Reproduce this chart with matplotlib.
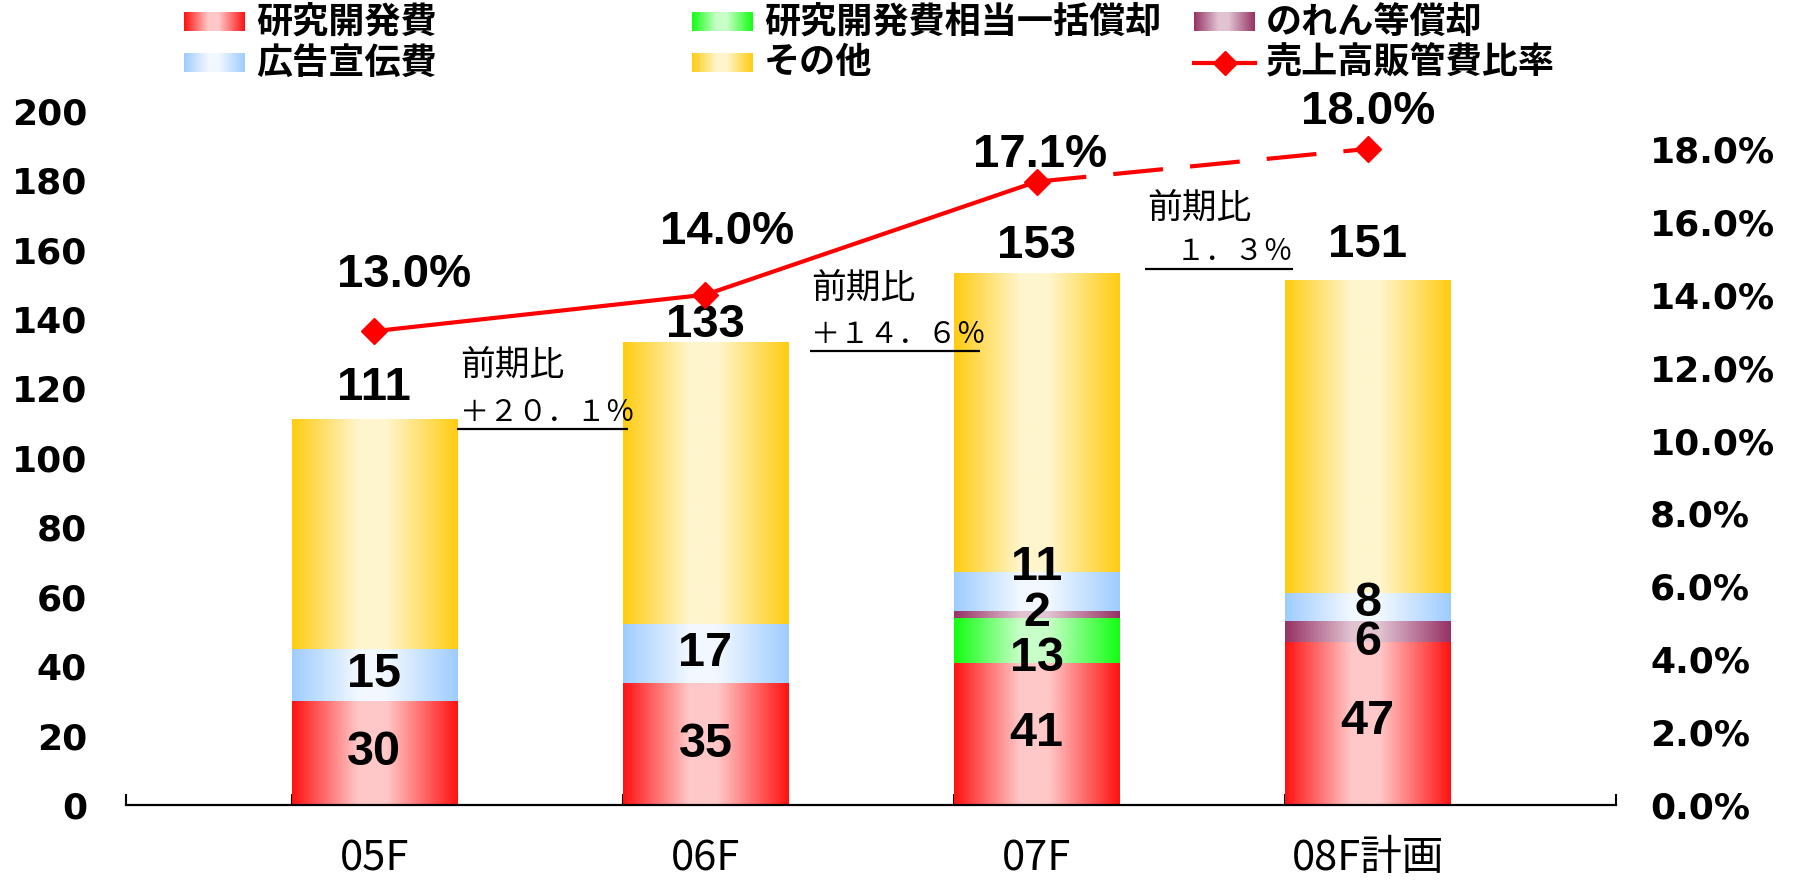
import numpy as np
import matplotlib
matplotlib.use('Agg')
import matplotlib.pyplot as plt
from matplotlib.ticker import FuncFormatter

# ---------------- data ----------------
categories = ['05F', '06F', '07F', '08F計画']
series_names = ['研究開発費', '研究開発費相当一括償却', 'のれん等償却', '広告宣伝費', 'その他']
rd = [30, 35, 41, 47]
rd_lump = [0, 0, 13, 0]
goodwill = [0, 0, 2, 6]
advert = [15, 17, 11, 8]
other = [66, 81, 86, 90]
totals = [111, 133, 153, 151]
ratio_name = '売上高販管費比率'
ratio = [13.0, 14.0, 17.1, 18.0]
yoy_line1 = ['前期比', '前期比', '前期比']
yoy_line2 = ['＋２０．１％', '＋１４．６％', '　１．３％']
left_ticks = [0, 20, 40, 60, 80, 100, 120, 140, 160, 180, 200]
right_ticks = [0, 2, 4, 6, 8, 10, 12, 14, 16, 18]

series_values = [rd, rd_lump, goodwill, advert, other]

# ---------------- style ----------------
edge_cols = [(255, 18, 18), (18, 255, 18), (150, 50, 100), (158, 204, 255), (255, 204, 17)]
center_cols = [(255, 200, 200), (200, 255, 200), (225, 195, 210), (242, 248, 255), (255, 245, 205)]
LINE_RED = '#FF0000'

NUM_FONT = 'Liberation Sans'
TICK_FONT = 'DejaVu Sans'
JP = ['Noto Sans CJK JP', 'DejaVu Sans']


def gradient(edge, center, n=256):
    t = np.linspace(0, 1, n)
    f = np.interp(t, [0, 0.4, 0.57, 1], [0, 1, 1, 0])
    e = np.array(edge) / 255.0
    c = np.array(center) / 255.0
    rgb = e[None, :] * (1 - f[:, None]) + c[None, :] * f[:, None]
    return rgb[None, :, :]


fig = plt.figure(figsize=(18, 8.8), dpi=100)
ax = fig.add_axes([126 / 1800, 75 / 880, (1616 - 126) / 1800, (805 - 76) / 880])
ax2 = ax.twinx()

n_slots = 2 * len(categories) + 1
xpos = [2 * i + 1.5 for i in range(len(categories))]

# ---------------- bars ----------------
bottom = np.zeros(len(categories))
label_offsets = [
    [0, 0, 0, 0.5],
    [0, 0, -5.4, 0],
    [0, 0, 0.1, -3.2],
    [0, 0, 6.9, 1.0],
    [0, 0, 0, 0],
]
for si, vals in enumerate(series_values):
    vals = np.array(vals, dtype=float)
    bars = ax.bar(xpos, vals, bottom=bottom, width=1.0, color='none', edgecolor='none', zorder=2)
    img = gradient(edge_cols[si], center_cols[si])
    for bi, p in enumerate(bars.patches):
        if vals[bi] <= 0:
            continue
        x0, y0 = p.get_x(), p.get_y()
        ax.imshow(img, extent=(x0, x0 + p.get_width(), y0, y0 + p.get_height()),
                  aspect='auto', interpolation='bilinear', zorder=2)
        if si < 4:
            ax.text(xpos[bi], y0 + vals[bi] / 2 + label_offsets[si][bi], f'{int(vals[bi])}',
                    ha='center', va='center', fontsize=35, fontweight='bold',
                    family=NUM_FONT, zorder=5)
    bottom += vals

total_offsets = [9, 5.2, 8, 10.3]
for bi, tot in enumerate(totals):
    ax.text(xpos[bi], tot + total_offsets[bi], f'{tot}', ha='center', va='center',
            fontsize=34, fontweight='bold', family=NUM_FONT, zorder=5)

# year-on-year annotations
ann_x = [(2.017, 2.0, 3.03), (4.14, 4.13, 5.16), (6.17, 6.155, 7.05)]
ann_y = [(126.8, 112.9, 108.3), (148.9, 135.4, 130.8), (172.0, 159.3, 154.4)]
for i in range(3):
    tx, lx0, lx1 = ann_x[i]
    y1, y2, yu = ann_y[i]
    ax.text(tx, y1, yoy_line1[i], ha='left', va='center', fontsize=25, family=JP, zorder=6)
    ax.text(tx, y2, yoy_line2[i], ha='left', va='center', fontsize=21, family=JP, zorder=6)
    ax.plot([lx0, lx1], [yu, yu], color='black', lw=1.6, zorder=6, solid_capstyle='butt')

ax.set_xlim(0, n_slots)
ax.set_ylim(0, 210)
ax.set_yticks(left_ticks)
ax.set_yticklabels([str(v) for v in left_ticks])
ax.tick_params(axis='y', length=0, pad=28, labelsize=26)
for lab in ax.get_yticklabels():
    lab.set_fontweight('bold')
    lab.set_family(TICK_FONT)

ax.set_xticks(range(0, n_slots + 1))
ax.set_xticklabels([''] * (n_slots + 1))
ax.tick_params(axis='x', which='major', direction='in', length=8, width=1.5, color='black')
ax.set_xticks(xpos, minor=True)
ax.set_xticklabels(categories, minor=True)
ax.tick_params(axis='x', which='minor', length=0, pad=24, labelsize=30)
for lab in ax.get_xticklabels(minor=True):
    lab.set_family(JP)

for s in ['left', 'right', 'top']:
    ax.spines[s].set_visible(False)
ax.spines['bottom'].set_linewidth(1.6)
ax.spines['bottom'].set_color('black')

# ---------------- ratio line ----------------
ax2.plot(xpos[:3], ratio[:3], '-', color=LINE_RED, lw=3, zorder=4)
ax2.plot(xpos[2:], ratio[2:], color=LINE_RED, lw=3, dashes=(12, 6.5), zorder=4)
ax2.plot(xpos, ratio, 'D', color=LINE_RED, ms=13, ls='none', zorder=5)
pct_offsets = [(21.6, 40.3), (15.8, 45.4), (2.2, 19.4), (0, 26.6)]
for bi, r in enumerate(ratio):
    ax2.annotate(f'{r:.1f}%', (xpos[bi], r), xytext=pct_offsets[bi], textcoords='offset points',
                 ha='center', va='center', fontsize=34, fontweight='bold', family=NUM_FONT)

ax2.set_ylim(0, 20)
ax2.set_yticks(right_ticks)
ax2.yaxis.set_major_formatter(FuncFormatter(lambda v, p: f'{v:.1f}%'))
ax2.tick_params(axis='y', length=0, pad=24.5, labelsize=26)
for lab in ax2.get_yticklabels():
    lab.set_fontweight('bold')
    lab.set_family(TICK_FONT)
for s in ['left', 'right', 'top', 'bottom']:
    ax2.spines[s].set_visible(False)
ax.set_xlim(0, n_slots)

# ---------------- legend (manual, figure pixel coords) ----------------
lax = fig.add_axes([0, 0, 1, 1], zorder=10)
lax.set_xlim(0, 1800)
lax.set_ylim(880, 0)
lax.axis('off')
key_cols = [184, 692, 1194]
key_rows = [22, 63]
legend_slots = {0: (0, 0), 1: (1, 0), 2: (2, 0), 3: (0, 1), 4: (1, 1)}
kw, kh = 61, 19
for si, name in enumerate(series_names):
    c, r = legend_slots[si]
    x0 = key_cols[c]
    yc = key_rows[r]
    lax.imshow(gradient(edge_cols[si], center_cols[si]), extent=(x0, x0 + kw, yc + kh / 2, yc - kh / 2),
               aspect='auto', interpolation='bilinear')
    lax.text(x0 + kw + 11, yc, name, ha='left', va='center', fontsize=26, fontweight='bold', family=JP)
x0 = key_cols[2]
yc = key_rows[1]
lax.plot([x0, x0 + kw], [yc, yc], color=LINE_RED, lw=3)
lax.plot([x0 + kw / 2], [yc], 'D', color=LINE_RED, ms=12)
lax.text(x0 + kw + 11, yc, ratio_name, ha='left', va='center', fontsize=26, fontweight='bold', family=JP)
lax.set_xlim(0, 1800)
lax.set_ylim(880, 0)

fig.savefig('out.png', dpi=100)
